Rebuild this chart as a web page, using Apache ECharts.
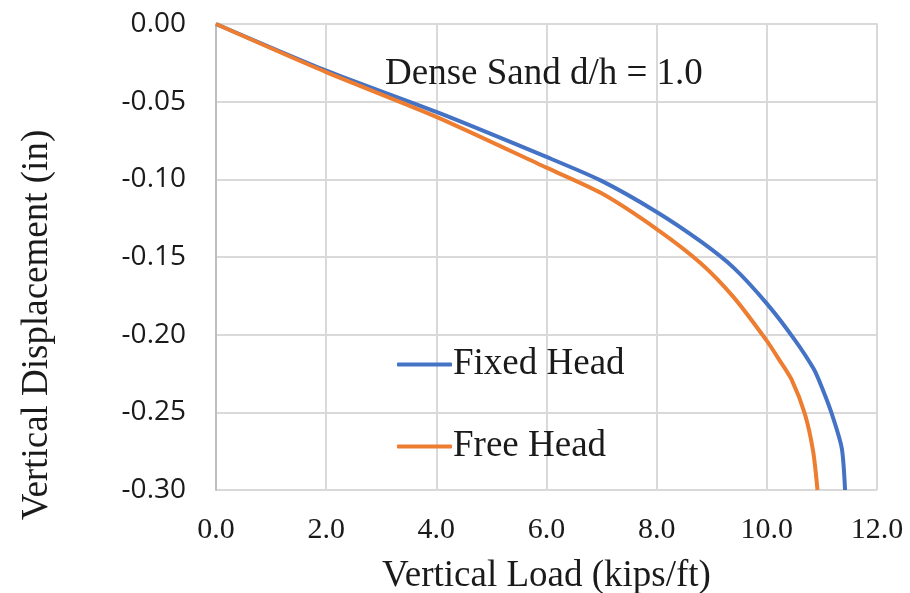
<!DOCTYPE html>
<html>
<head>
<meta charset="utf-8">
<script src="https://cdn.jsdelivr.net/npm/echarts@6/dist/echarts.min.js"></script>
<style>
  html, body { margin: 0; padding: 0; background: #fff; }
  #main { width: 910px; height: 593px; }
</style>
</head>
<body>
<div id="main"></div>
<script>
// data (load in kips/ft, displacement in inches)
var fixedLoad = [0, 2.0, 4.0, 6.0, 7.0, 8.0, 8.8, 9.4, 10.0, 10.5, 10.85, 11.0, 11.18, 11.36, 11.42];
var fixedDisp = [0, -0.030, -0.0566, -0.0856, -0.101, -0.121, -0.140, -0.157, -0.180, -0.203, -0.222, -0.234, -0.251, -0.273, -0.300];

var freeLoad = [0, 2.0, 4.0, 6.0, 7.0, 8.0, 8.8, 9.4, 10.0, 10.24, 10.45, 10.69, 10.84, 10.92];
var freeDisp = [0, -0.031, -0.0598, -0.0925, -0.109, -0.132, -0.154, -0.176, -0.204, -0.217, -0.229, -0.251, -0.275, -0.300];

var seriesNames = ['Fixed Head', 'Free Head'];

function pairs(xs, ys) {
    var out = [];
    for (var i = 0; i < xs.length; i++) {
        out.push([xs[i], ys[i]]);
    }
    return out;
}

var serif = '"Liberation Serif", "Times New Roman", serif';
var sans = '"Open Sans", "Noto Sans", sans-serif';

var myChart = echarts.init(document.getElementById('main'));

var option = {
    animation: false,
    title: {
        text: 'Dense Sand d/h = 1.0',
        left: 380,
        top: 51,
        textStyle: { fontFamily: serif, fontSize: 37, fontWeight: 'normal', color: '#1a1a1a' }
    },
    legend: {
        data: seriesNames,
        orient: 'vertical',
        left: 392,
        top: 341,
        itemWidth: 55,
        itemHeight: 4,
        itemGap: 45,
        icon: 'roundRect',
        textStyle: { fontFamily: serif, fontSize: 37, color: '#1a1a1a', padding: [0, 0, 0, -4] }
    },
    grid: {
        left: 216,
        top: 24,
        right: 33,
        bottom: 103,
        containLabel: false,
        outerBoundsMode: 'none'
    },
    xAxis: {
        type: 'value',
        min: 0,
        max: 12,
        interval: 2,
        name: 'Vertical Load (kips/ft)',
        nameLocation: 'middle',
        nameGap: 68,
        nameTextStyle: { fontFamily: serif, fontSize: 37, color: '#1a1a1a' },
        axisLine: { show: true, lineStyle: { color: '#d9d9d9', width: 2 } },
        axisTick: { show: false },
        axisLabel: {
            margin: 25,
            fontFamily: serif,
            fontSize: 30,
            color: '#1a1a1a',
            formatter: function (v) { return v.toFixed(1); }
        },
        splitLine: { show: true, lineStyle: { color: '#d9d9d9', width: 2 } }
    },
    yAxis: {
        type: 'value',
        min: -0.3,
        max: 0,
        interval: 0.05,
        name: 'Vertical Displacement (in)',
        nameLocation: 'middle',
        nameGap: 160,
        nameTextStyle: { fontFamily: serif, fontSize: 37, color: '#1a1a1a', padding: [0, 136, 0, 0] },
        axisLine: { show: true, onZero: false, lineStyle: { color: '#bfbfbf', width: 2 } },
        axisTick: { show: false },
        axisLabel: {
            margin: 30,
            fontFamily: sans,
            fontSize: 28,
            color: '#1a1a1a',
            formatter: function (v) { return v.toFixed(2); }
        },
        splitLine: { show: true, lineStyle: { color: '#d9d9d9', width: 2 } }
    },
    series: [
        {
            name: seriesNames[0],
            type: 'line',
            data: pairs(fixedLoad, fixedDisp),
            showSymbol: false,
            smooth: 0.25,
            color: '#4472C4',
            lineStyle: { width: 4, color: '#4472C4' }
        },
        {
            name: seriesNames[1],
            type: 'line',
            data: pairs(freeLoad, freeDisp),
            showSymbol: false,
            smooth: 0.25,
            color: '#ED7D31',
            lineStyle: { width: 4, color: '#ED7D31' }
        }
    ]
};

myChart.setOption(option);
</script>
</body>
</html>
